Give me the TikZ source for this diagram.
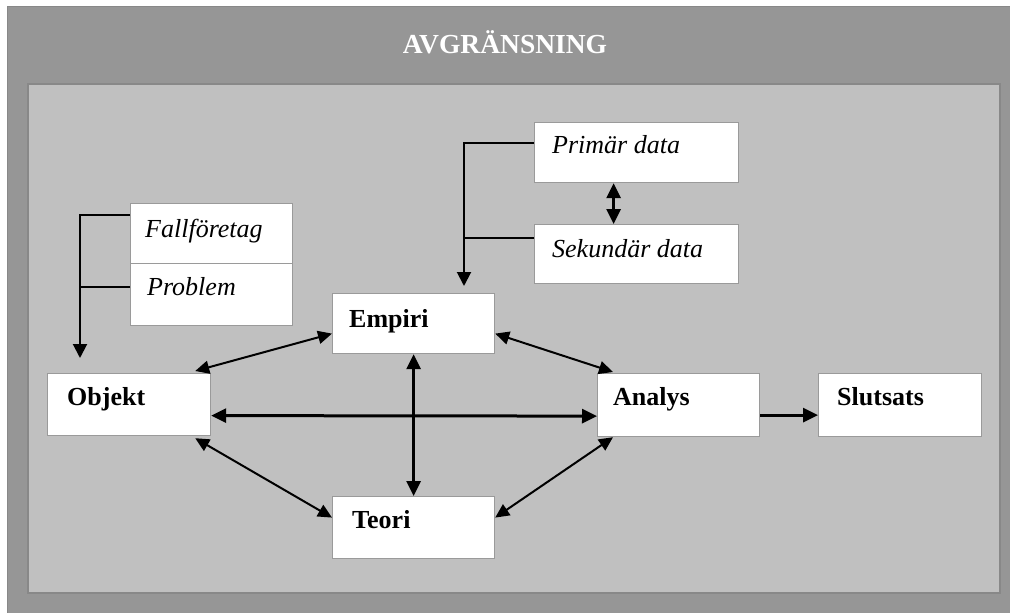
\documentclass[tikz,border=0pt]{standalone}
\usepackage{fontspec}
\setmainfont{Liberation Serif}
\usetikzlibrary{arrows.meta,calc}
\definecolor{outergray}{HTML}{969696}
\definecolor{innergray}{HTML}{C0C0C0}
\definecolor{edgegray}{HTML}{888888}
\definecolor{boxedge}{HTML}{9A9A9A}
\begin{document}
\begin{tikzpicture}[x=1pt,y=-1pt,
  stepbox/.style={draw=boxedge, line width=1.2pt, fill=white, rectangle, anchor=north west, inner sep=0pt},
  bl/.style={anchor=base west, font=\fontsize{26}{30}\selectfont\bfseries, inner sep=0pt},
  il/.style={anchor=base west, font=\fontsize{26}{30}\selectfont\itshape, inner sep=0pt},
  bigtip/.style={Triangle[length=15pt,width=14pt]},
  darr/.style={line width=3pt, {Triangle[length=15pt,width=14pt]}-{Triangle[length=15pt,width=14pt]}},
  diag/.style={line width=2pt, {Triangle[length=14pt,width=13pt]}-{Triangle[length=14pt,width=13pt]}},
  sarr/.style={line width=3pt, -{Triangle[length=15pt,width=14pt]}},
  brk/.style={line width=2pt},
  brkarr/.style={line width=2pt, -{Triangle[length=14pt,width=14pt]}}]
\useasboundingbox (0,0) rectangle (1010,613);
\fill[white] (0,0) rectangle (1010,613);
% frames
\draw[fill=outergray, draw=edgegray, line width=1pt] (7,6) rectangle (1012,616);
\draw[fill=innergray, draw=edgegray, line width=1.2pt] (28,84) rectangle (1000,593);
\node[anchor=base, text=white, font=\fontsize{27.5}{32}\selectfont\bfseries, inner sep=0pt] (title) at (505,53) {AVGRÄNSNING};
% boxes
\node[stepbox, minimum width=162pt, minimum height=60pt] (fal) at (130,203) {};
\node[stepbox, minimum width=162pt, minimum height=62pt] (pro) at (130,263) {};
\node[stepbox, minimum width=163pt, minimum height=62pt] (obj) at (47,373) {};
\node[stepbox, minimum width=162pt, minimum height=60pt] (emp) at (332,293) {};
\node[stepbox, minimum width=204pt, minimum height=60pt] (pri) at (534,122) {};
\node[stepbox, minimum width=204pt, minimum height=59pt] (sek) at (534,224) {};
\node[stepbox, minimum width=162pt, minimum height=63pt] (ana) at (597,373) {};
\node[stepbox, minimum width=163pt, minimum height=63pt] (slu) at (818,373) {};
\node[stepbox, minimum width=162pt, minimum height=62pt] (teo) at (332,496) {};
% labels
\node[il] (falt) at ($(fal.north west)+(15,34)$) {Fallföretag};
\node[il] (prot) at ($(pro.north west)+(17,32)$) {Problem};
\node[bl] (objt) at ($(obj.north west)+(20,32)$) {Objekt};
\node[bl] (empt) at ($(emp.north west)+(17,34)$) {Empiri};
\node[il] (prit) at ($(pri.north west)+(18,31)$) {Primär data};
\node[il] (sekt) at ($(sek.north west)+(18,33)$) {Sekundär data};
\node[bl] (anat) at ($(ana.north west)+(16,32)$) {Analys};
\node[bl] (slut) at ($(slu.north west)+(19,32)$) {Slutsats};
\node[bl] (teot) at ($(teo.north west)+(20,32)$) {Teori};
% bracket targets
\coordinate (objin) at (80,358);
\coordinate (empin) at (464,286);
% brackets
\draw[brkarr] ([yshift=-12pt]fal.north west) -| (objin);
\draw[brk] ([yshift=-24pt]pro.north west) -- ([yshift=-24pt]pro.north west -| objin);
\draw[brkarr] ([yshift=-21pt]pri.north west) -| (empin);
\draw[brk] ([yshift=-14pt]sek.north west) -- ([yshift=-14pt]sek.north west -| empin);
% data arrow
\draw[darr] ([xshift=-23pt]pri.south) -- ([xshift=-23pt]sek.north);
% main arrows
\draw[diag] ([xshift=-16pt,yshift=2pt]obj.north east) -- ([yshift=-10pt]emp.west);
\draw[diag] ([yshift=-10pt]emp.east) -- ([xshift=16pt,yshift=1pt]ana.north west);
\draw[darr] ([yshift=-11pt]obj.east) -- ([yshift=-11pt]ana.west);
\draw[darr] (emp.south) -- (teo.north);
\draw[diag] ([xshift=-16pt,yshift=-2pt]obj.south east) -- ([yshift=10pt]teo.west);
\draw[diag] ([yshift=10pt]teo.east) -- ([xshift=16pt]ana.south west);
\draw[sarr] ([yshift=-10pt]ana.east) -- ([yshift=-10pt]slu.west);
\end{tikzpicture}
\end{document}
